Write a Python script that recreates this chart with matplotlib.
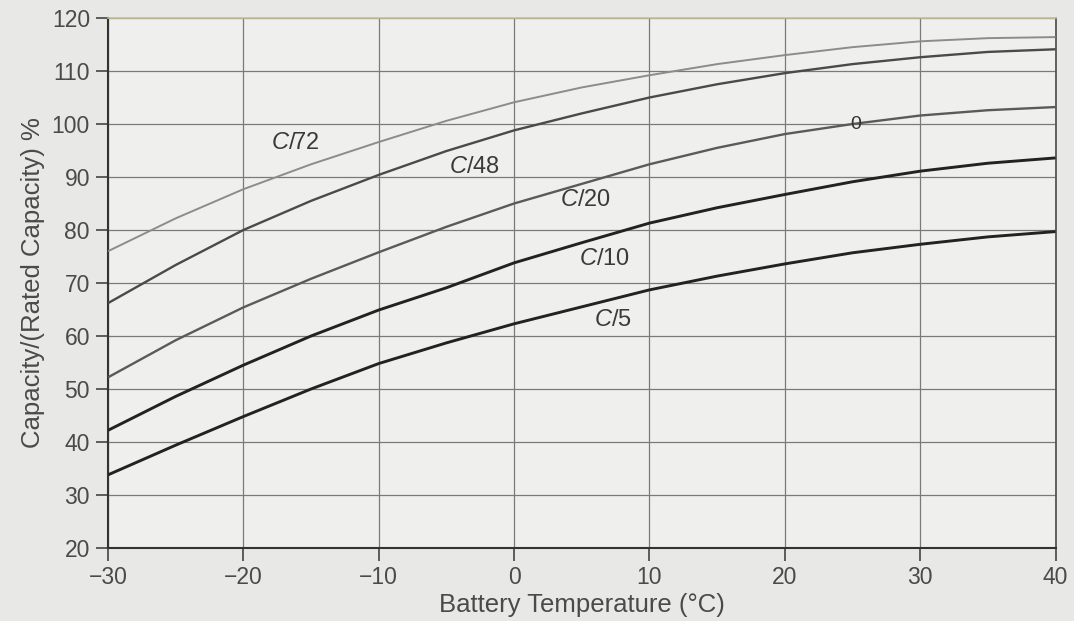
import matplotlib
matplotlib.use("Agg")
import matplotlib.pyplot as plt

plt.rcParams['font.family'] = ['Liberation Sans', 'DejaVu Sans']
plt.rcParams['mathtext.fontset'] = 'custom'
plt.rcParams['mathtext.rm'] = 'Liberation Sans'
plt.rcParams['mathtext.it'] = 'Liberation Sans:italic'

temps = [-30, -25, -20, -15, -10, -5, 0, 5, 10, 15, 20, 25, 30, 35, 40]
c72 = [76.0, 82.2, 87.7, 92.4, 96.6, 100.6, 104.1, 106.9, 109.2, 111.3, 113.0, 114.5, 115.6, 116.2, 116.4]
c48 = [66.2, 73.4, 80.0, 85.5, 90.4, 94.9, 98.8, 102.0, 105.0, 107.5, 109.6, 111.3, 112.6, 113.6, 114.1]
c20 = [52.2, 59.2, 65.4, 70.8, 75.8, 80.6, 85.0, 88.7, 92.4, 95.5, 98.1, 100.0, 101.6, 102.6, 103.2]
c10 = [42.2, 48.6, 54.5, 60.0, 64.9, 69.1, 73.8, 77.6, 81.3, 84.2, 86.7, 89.1, 91.1, 92.6, 93.6]
c5 = [33.8, 39.4, 44.8, 50.0, 54.8, 58.7, 62.3, 65.5, 68.7, 71.3, 73.6, 75.7, 77.3, 78.7, 79.7]

series_names = ['72', '48', '20', '10', '5']
label_x = [-16.2, -2.9, 5.3, 6.7, 7.3]
label_y = [96.4, 91.9, 85.6, 74.6, 63.1]
x_ticks = [-30, -20, -10, 0, 10, 20, 30, 40]
y_ticks = [20, 30, 40, 50, 60, 70, 80, 90, 100, 110, 120]

fig = plt.figure(figsize=(10.74, 6.21), dpi=100, facecolor='#e8e8e6')
ax = fig.add_axes([0.1006, 0.1176, 0.8822, 0.8534])
ax.set_facecolor('#efefed')

ax.set_xlim(-30, 40)
ax.set_ylim(20, 120)
ax.set_xticks(x_ticks)
ax.set_yticks(y_ticks)
ax.grid(True, color='#7a7a7a', linewidth=0.9, zorder=1)
ax.set_axisbelow(True)

styles = [('#8c8c8c', 1.4), ('#4a4a4a', 1.7), ('#5a5a5a', 1.7), ('#222222', 2.1), ('#222222', 2.1)]
for ys, (col, lw) in zip([c72, c48, c20, c10, c5], styles):
    ax.plot(temps, ys, color=col, linewidth=lw, zorder=3, solid_capstyle='butt')

for name, lx, ly in zip(series_names, label_x, label_y):
    ax.text(lx, ly, r'$C$/' + name, fontsize=17, color='#3a3a3a',
            ha='center', va='center', zorder=4)

ax.text(25.2, 100.0, '0', fontsize=14, color='#333333', ha='center', va='center', zorder=4)

for s in ['left', 'bottom']:
    ax.spines[s].set_color('#333333')
    ax.spines[s].set_linewidth(1.5)
ax.spines['right'].set_color('#555555')
ax.spines['right'].set_linewidth(1.3)
ax.spines['top'].set_color('#c4c096')
ax.spines['top'].set_linewidth(1.2)

ax.tick_params(axis='both', direction='out', length=9, width=1.2, color='#444444',
               labelsize=16.5, labelcolor='#4a4a4a', pad=4)

ax.set_xlabel('Battery Temperature (°C)', fontsize=18.5, color='#4a4a4a', labelpad=3)
ax.set_ylabel('Capacity/(Rated Capacity) %', fontsize=18.5, color='#4a4a4a', labelpad=5)

fig.savefig('out.png', dpi=100, facecolor=fig.get_facecolor())
